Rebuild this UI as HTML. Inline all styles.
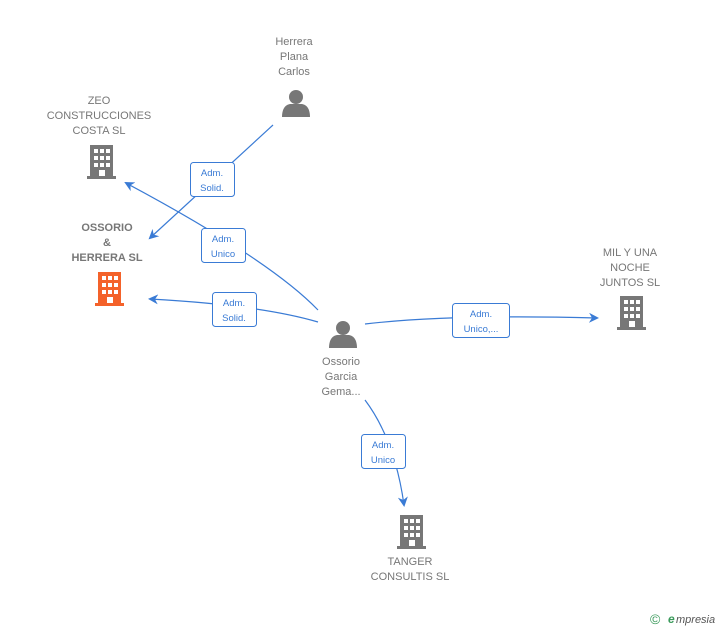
<!DOCTYPE html>
<html><head><style>
body{margin:0;background:#fff;width:728px;height:630px;overflow:hidden;font-family:"Liberation Sans",sans-serif}
svg{position:absolute;left:0;top:0}
.t{font-size:11px;fill:#777;text-anchor:middle}
.b{font-size:11px;fill:#777;text-anchor:middle;font-weight:bold}
.l{font-size:9.5px;fill:#3a7bd5;text-anchor:middle}
</style></head><body>
<svg width="728" height="630" viewBox="0 0 728 630">
<defs>
<marker id="a" markerWidth="10" markerHeight="10" refX="8" refY="5" orient="auto" markerUnits="userSpaceOnUse"><path d="M0,0 L10,5 L0,10 L3,5z" fill="#3a7bd5"/></marker>
<g id="bld"><rect x="3" y="0" width="23" height="31"/><rect x="0" y="31" width="29" height="3"/></g>
<g id="win" fill="#fff"><rect x="7" y="4" width="4" height="4"/><rect x="13" y="4" width="4" height="4"/><rect x="19" y="4" width="4" height="4"/><rect x="7" y="11" width="4" height="4"/><rect x="13" y="11" width="4" height="4"/><rect x="19" y="11" width="4" height="4"/><rect x="7" y="18" width="4" height="4"/><rect x="13" y="18" width="4" height="4"/><rect x="19" y="18" width="4" height="4"/><rect x="12" y="25" width="6" height="6"/></g>
<g id="per" fill="#777"><circle cx="14" cy="8" r="7"/><path d="M0,28 C0,18 5,15 9,15 L19,15 C23,15 28,18 28,28z"/></g>
</defs>
<g fill="none" stroke="#3a7bd5" stroke-width="1.2">
<path d="M273,125 L150,238" marker-end="url(#a)"/>
<path d="M318,310 Q270,260 126,183" marker-end="url(#a)"/>
<path d="M318,322 Q260,305 150,299" marker-end="url(#a)"/>
<path d="M365,324 Q450,314 597,318" marker-end="url(#a)"/>
<path d="M365,400 Q395,440 404,505" marker-end="url(#a)"/>
</g>
<g fill="#fff" stroke="#3a7bd5" stroke-width="1">
<rect x="190.5" y="162.5" width="44" height="34" rx="3"/>
<rect x="201.5" y="228.5" width="44" height="34" rx="3"/>
<rect x="212.5" y="292.5" width="44" height="34" rx="3"/>
<rect x="452.5" y="303.5" width="57" height="34" rx="3"/>
<rect x="361.5" y="434.5" width="44" height="34" rx="3"/>
</g>
<text class="l" x="212" y="176">Adm.</text><text class="l" x="212" y="191">Solid.</text>
<text class="l" x="223" y="242">Adm.</text><text class="l" x="223" y="257">Unico</text>
<text class="l" x="234" y="306">Adm.</text><text class="l" x="234" y="321">Solid.</text>
<text class="l" x="481" y="317">Adm.</text><text class="l" x="481" y="332">Unico,...</text>
<text class="l" x="383" y="448">Adm.</text><text class="l" x="383" y="463">Unico</text>
<use href="#per" x="282" y="89"/>
<use href="#per" x="329" y="320"/>
<g fill="#777"><use href="#bld" x="87" y="145"/></g><use href="#win" x="87" y="145"/>
<g fill="#f4622a"><use href="#bld" x="95" y="272"/></g><use href="#win" x="95" y="272"/>
<g fill="#777"><use href="#bld" x="617" y="296"/></g><use href="#win" x="617" y="296"/>
<g fill="#777"><use href="#bld" x="397" y="515"/></g><use href="#win" x="397" y="515"/>
<text class="t" x="294" y="45">Herrera</text><text class="t" x="294" y="60">Plana</text><text class="t" x="294" y="75">Carlos</text>
<text class="t" x="99" y="104">ZEO</text><text class="t" x="99" y="119">CONSTRUCCIONES</text><text class="t" x="99" y="134">COSTA  SL</text>
<text class="b" x="107" y="231">OSSORIO</text><text class="b" x="107" y="246">&amp;</text><text class="b" x="107" y="261">HERRERA  SL</text>
<text class="t" x="630" y="256">MIL Y UNA</text><text class="t" x="630" y="271">NOCHE</text><text class="t" x="630" y="286">JUNTOS  SL</text>
<text class="t" x="341" y="365">Ossorio</text><text class="t" x="341" y="380">Garcia</text><text class="t" x="341" y="395">Gema...</text>
<text class="t" x="410" y="565">TANGER</text><text class="t" x="410" y="580">CONSULTIS  SL</text>
<text x="650" y="624" style="font-size:14px;fill:#3a9a5b">©</text>
<text x="668" y="623" style="font-size:12px;fill:#3a9a5b;font-style:italic;font-weight:bold">e</text>
<text x="676" y="623" style="font-size:11px;fill:#555;font-style:italic">mpresia</text>
</svg>
</body></html>
